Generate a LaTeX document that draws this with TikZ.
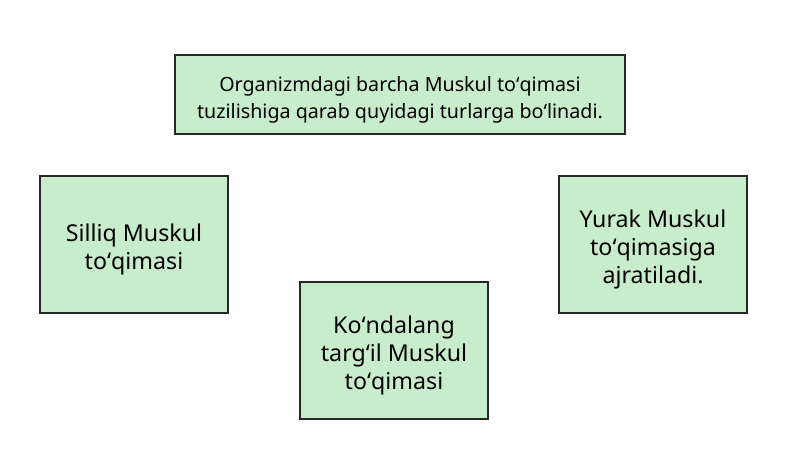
\documentclass[tikz,border=0pt]{standalone}
\usepackage{fontspec}
\setmainfont{Noto Sans}
\usetikzlibrary{positioning}
\definecolor{boxgreen}{RGB}{200,237,204}
\definecolor{boxline}{RGB}{40,40,40}
\newcommand{\lowerby}[1]{\rule{0pt}{#1}}

\begin{document}
\begin{tikzpicture}[x=0.025cm,y=-0.025cm,
	thick,main node/.style={rectangle,draw=boxline,fill=boxgreen,line width=0.9pt,
		align=center,inner sep=0pt},
	title node/.style={main node,minimum width=11.25cm,minimum height=1.975cm,
		font=\fontsize{14}{19.8}\selectfont},
	kind node/.style={main node,minimum width=4.7cm,minimum height=3.425cm,
		font=\fontsize{16.5}{19.8}\selectfont}]
	
	\useasboundingbox (0,0) rectangle (800,449);
	
	\node[title node] (top) at (400,94.5) {\lowerby{1.3em}Organizmdagi barcha Muskul toʻqimasi\\tuzilishiga qarab quyidagi turlarga boʻlinadi.};
	\node[kind node] (silliq) at (134,244.5) {\lowerby{1.2em}Silliq Muskul\\toʻqimasi};
	\node[kind node] (kondalang) at (394,350.5) {\lowerby{1.2em}Koʻndalang\\targʻil Muskul\\toʻqimasi};
	\node[kind node] (yurak) at (653,244.5) {\lowerby{1.2em}Yurak Muskul\\toʻqimasiga\\ajratiladi.};
	\end{tikzpicture}
\end{document}
